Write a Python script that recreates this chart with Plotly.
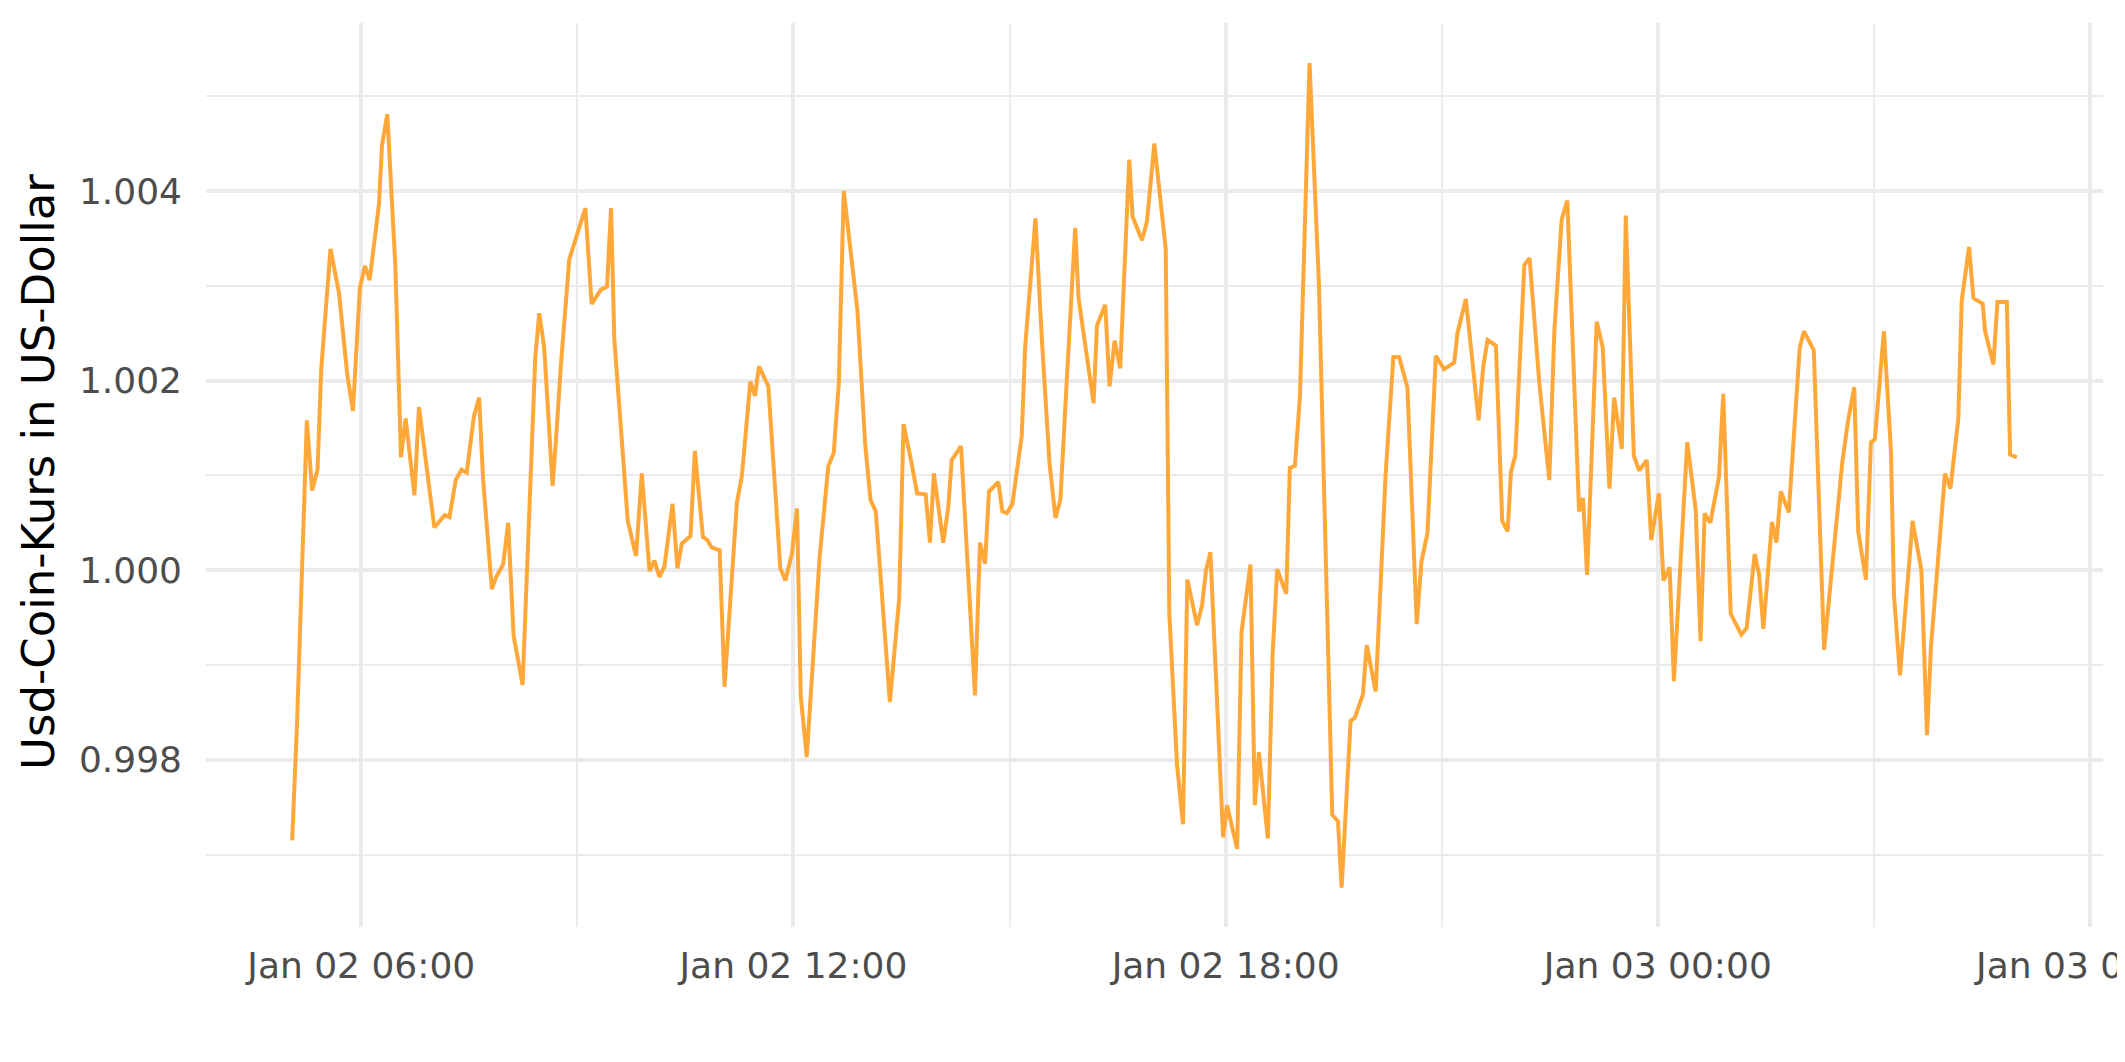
import pandas as pd
import plotly.graph_objects as go

# Time of each observation, in minutes after 2023-01-02 00:00
minutes = [
    302.5, 306.6, 314.7, 319.1, 323.6, 326.7, 334.4, 341.4, 348.4, 353.1, 358.9, 363.1, 367.0,
    374.8, 377.3, 381.7, 388.4, 393.1, 397.0, 404.3, 408.1, 416.5, 420.9, 429.6, 433.5, 438.7,
    443.5, 447.9, 453.8, 458.2, 461.5, 468.8, 472.1, 478.2, 482.4, 486.9, 494.4, 505.0, 508.3,
    512.4, 519.4, 522.2, 526.4, 533.3, 546.7, 551.9, 559.7, 564.7, 568.1, 570.8, 582.0, 588.9,
    593.7, 600.1, 604.2, 608.4, 612.6, 619.3, 623.4, 627.0, 634.3, 637.9, 644.6, 648.2, 651.8,
    658.5, 662.6, 672.9, 677.1, 684.1, 688.0, 691.3, 699.1, 709.1, 713.3, 718.8, 723.0, 726.1,
    731.1, 741.9, 749.1, 753.6, 757.8, 761.9, 773.3, 779.7, 784.2, 788.6, 793.4, 800.3, 808.1,
    811.7, 818.4, 823.1, 830.1, 833.7, 837.0, 844.8, 849.0, 851.8, 859.6, 871.2, 875.4, 879.6,
    882.9,
    890.7, 894.0, 897.7, 902.4, 906.0, 910.2, 913.0, 921.6, 926.9, 933.3, 938.3, 942.4, 947.2,
    954.7, 957.5, 961.1, 970.0, 972.8, 979.7, 983.3, 987.5, 992.2, 999.7, 1002.5, 1010.3, 1014.5,
    1020.6, 1030.1, 1033.1, 1039.5, 1044.5, 1048.1, 1056.2, 1060.4, 1063.7, 1067.3, 1077.9,
    1081.2, 1089.6, 1093.2, 1100.7, 1104.3, 1107.7, 1115.2, 1119.1, 1122.9, 1130.5, 1133.5,
    1137.7, 1141.9, 1149.9, 1157.7, 1168.8, 1173.6,
    1176.6, 1184.1, 1187.5, 1194.4, 1197.5, 1205.0, 1213.3, 1219.7, 1224.5, 1231.4, 1239.2,
    1243.1, 1248.1, 1255.1, 1262.0, 1270.4, 1273.1, 1280.1, 1290.7, 1294.6, 1298.2, 1305.1,
    1310.4, 1314.9, 1317.6, 1321.3, 1328.8, 1333.2, 1341.3, 1349.6, 1353.8, 1359.9, 1364.6,
    1374.4, 1377.7, 1381.1, 1389.1, 1394.1, 1399.7, 1403.6, 1410.0, 1413.3, 1420.0, 1424.4,
    1430.8, 1434.5, 1440.9, 1444.7, 1449.8, 1453.4, 1464.5,
    1471.5, 1475.6, 1479.0, 1483.7, 1490.9, 1494.5, 1500.7, 1509.6, 1514.0, 1520.7, 1524.3,
    1527.9, 1535.1, 1538.8, 1542.4, 1549.1, 1558.2, 1561.8, 1569.9, 1578.5, 1593.6, 1598.0,
    1603.6, 1606.9, 1613.3, 1617.5, 1620.8, 1628.3, 1634.2, 1636.7, 1641.7, 1652.2, 1659.5,
    1664.2, 1667.5, 1675.0, 1679.2, 1683.7, 1690.3, 1693.1, 1699.2, 1702.9, 1710.6, 1712.6,
    1719.5, 1722.9, 1730.7, 1733.4, 1739.0,
]

# USD Coin price in US dollars
price = [
    0.99715, 0.99841, 1.00158, 1.00084, 1.00106, 1.00212, 1.00339, 1.00293, 1.00206, 1.00168,
    1.00298, 1.00321, 1.00306, 1.00386, 1.00448, 1.00481, 1.00322, 1.00119, 1.00160, 1.00079,
    1.00172, 1.00093, 1.00045, 1.00058, 1.00056, 1.00095, 1.00106, 1.00103, 1.00162, 1.00182,
    1.00096, 0.99980, 0.99992, 1.00006, 1.00050, 0.99931, 0.99879, 1.00225, 1.00271, 1.00235,
    1.00089, 1.00137, 1.00218, 1.00328, 1.00382, 1.00281, 1.00296, 1.00299, 1.00382, 1.00244,
    1.00052, 1.00015,
    1.00102, 0.99999, 1.00010, 0.99993, 1.00004, 1.00070, 1.00002, 1.00028, 1.00036, 1.00126,
    1.00035, 1.00032, 1.00024, 1.00021, 0.99877, 1.00071, 1.00100, 1.00199, 1.00184, 1.00215,
    1.00194, 1.00002, 0.99989, 1.00018, 1.00065, 0.99867, 0.99803, 1.00015, 1.00110, 1.00124,
    1.00197, 1.00400, 1.00274, 1.00134, 1.00074, 1.00062, 0.99980, 0.99861, 0.99970, 1.00154,
    1.00113, 1.00081, 1.00080, 1.00029, 1.00102, 1.00029, 1.00067, 1.00116, 1.00131, 0.99868,
    1.00029, 1.00007, 1.00083,
    1.00093, 1.00062, 1.00060, 1.00070, 1.00102, 1.00142, 1.00235, 1.00371, 1.00244, 1.00113,
    1.00055, 1.00075, 1.00189, 1.00361, 1.00287, 1.00254, 1.00176, 1.00258, 1.00280, 1.00194,
    1.00242, 1.00213, 1.00433, 1.00373, 1.00348, 1.00368, 1.00450, 1.00339, 0.99954, 0.99795,
    0.99732, 0.99990, 0.99942, 0.99963, 1.00000, 1.00019, 0.99718, 0.99752, 0.99706, 0.99934,
    1.00006, 0.99752, 0.99808, 0.99717, 0.99910, 1.00001, 0.99975, 1.00108, 1.00110, 1.00183,
    1.00535, 1.00302, 0.99742, 0.99735,
    0.99665, 0.99841, 0.99844, 0.99869, 0.99921, 0.99872, 1.00102, 1.00225, 1.00225, 1.00193,
    0.99943, 1.00009, 1.00039, 1.00226, 1.00212, 1.00219, 1.00250, 1.00286, 1.00158, 1.00215,
    1.00243, 1.00237, 1.00052, 1.00041, 1.00103, 1.00121, 1.00322, 1.00329, 1.00197, 1.00095,
    1.00252, 1.00370, 1.00390, 1.00062, 1.00076, 0.99995, 1.00262, 1.00235, 1.00086, 1.00182,
    1.00128, 1.00374, 1.00121, 1.00105, 1.00116, 1.00032, 1.00081, 0.99989, 1.00003, 0.99883,
    1.00135,
    1.00064, 0.99925, 1.00060, 1.00050, 1.00098, 1.00186, 0.99954, 0.99932, 0.99939, 1.00017,
    0.99996, 0.99938, 1.00051, 1.00029, 1.00083, 1.00061, 1.00235, 1.00252, 1.00232, 0.99916,
    1.00113, 1.00154, 1.00193, 1.00041, 0.99990, 1.00135, 1.00138, 1.00252, 1.00125, 0.99974,
    0.99889, 1.00052, 1.00000, 0.99826, 0.99919, 1.00038, 1.00102, 1.00086, 1.00160, 1.00284,
    1.00341, 1.00287, 1.00281, 1.00252, 1.00217, 1.00283, 1.00283, 1.00122, 1.00119,
]

y_ticks = [0.998, 1.000, 1.002, 1.004]
y_title = "Usd-Coin-Kurs in US-Dollar"
start_day = "2023-01-02"

times = pd.Timestamp(start_day) + pd.to_timedelta(minutes, unit="m")

fig = go.Figure()
fig.add_trace(go.Scatter(
    x=times, y=price, mode="lines",
    line=dict(color="#FFA83A", width=4),
    showlegend=False, hoverinfo="skip",
))

grid = "#EBEBEB"
tick_font = dict(family="DejaVu Sans", size=36, color="#4D4D4D")

fig.update_layout(
    width=2125, height=1062,
    margin=dict(l=198, r=30, t=15, b=143),
    paper_bgcolor="white", plot_bgcolor="white",
    xaxis=dict(
        type="date",
        range=["2023-01-02 03:50:42", "2023-01-03 06:10:48"],
        tick0="2023-01-02 00:00", dtick=6 * 3600 * 1000,
        tickformat="%b %d %H:%M",
        showgrid=True, gridcolor=grid, gridwidth=4.4,
        minor=dict(tick0="2023-01-02 00:00", dtick=3 * 3600 * 1000,
                   showgrid=True, gridcolor=grid, gridwidth=2.2),
        zeroline=False, showline=False, ticks="",
        tickfont=tick_font, ticklabelstandoff=14,
        ticklabeloverflow="allow",
        automargin=False,
    ),
    yaxis=dict(
        range=[0.996236, 1.005772],
        tickvals=y_ticks, tickformat=".3f",
        showgrid=True, gridcolor=grid, gridwidth=4.4,
        minor=dict(dtick=0.001, tick0=0.997, showgrid=True, gridcolor=grid, gridwidth=2.2),
        zeroline=False, showline=False, ticks="",
        tickfont=tick_font, ticklabelstandoff=23,
        automargin=False,
    ),
    annotations=[dict(
        text=y_title, xref="paper", yref="paper",
        x=-0.0886, y=0.5033, xanchor="center", yanchor="middle",
        textangle=-90, showarrow=False,
        font=dict(family="DejaVu Sans", size=45, color="black"),
    )],
)

fig.write_html("out.html")
